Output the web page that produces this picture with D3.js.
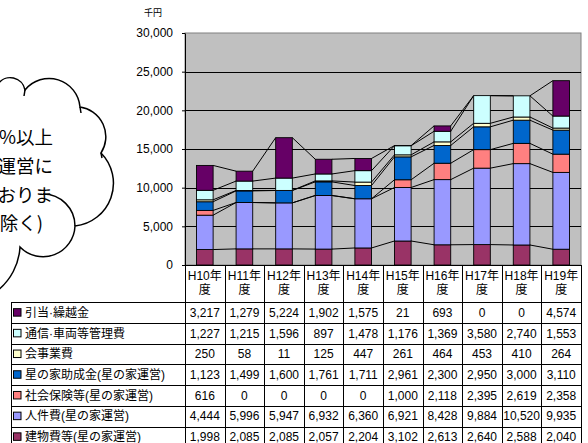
<!DOCTYPE html>
<html>
<head>
<meta charset="utf-8">
<script src="https://cdn.jsdelivr.net/npm/d3@7/dist/d3.min.js"></script>
<style>
html,body{margin:0;padding:0;background:#fff;overflow:hidden;}
svg{display:block;}
text{font-family:"Liberation Sans","Noto Sans CJK JP",Arial,sans-serif;fill:#000;}
</style>
</head>
<body>
<svg id="chart" width="588" height="443"></svg>
<script>
// ---- data ----
const categories = ["H10年度","H11年度","H12年度","H13年度","H14年度","H15年度","H16年度","H17年度","H18年度","H19年度"];
// stacking order bottom -> top
const seriesNames = ["建物費等(星の家運営)","人件費(星の家運営)","社会保険等(星の家運営)","星の家助成金(星の家運営)","会事業費","通信·車両等管理費","引当·繰越金"];
const tatemono  = [1998,2085,2085,2057,2204,3102,2613,2640,2588,2040];
const jinken    = [4444,5996,5947,6932,6360,6921,8428,9884,10520,9935];
const shakai    = [616,0,0,0,0,1000,2118,2395,2619,2358];
const josei     = [1123,1499,1600,1761,1711,2961,2300,2950,3000,3110];
const jigyo     = [250,58,11,125,447,261,464,453,410,264];
const tsushin   = [1227,1215,1596,897,1478,1176,1369,3580,2740,1553];
const hikiate   = [3217,1279,5224,1902,1575,21,693,0,0,4574];
const seriesValues = [tatemono,jinken,shakai,josei,jigyo,tsushin,hikiate];
const seriesColors = ["#993366","#9999FF","#FF8080","#0066CC","#FFFFCC","#CCFFFF","#660066"];
const yTicks = [0,5000,10000,15000,20000,25000,30000];
const unitLabel = "千円";
const cloudLines = ["収入の50%以上","を星の家運営に","充てておりま","す(繰越金を除く)"];

// ---- layout ----
const svg = d3.select("#chart");
const plotL = 185, plotR = 581, plotT = 33, plotB = 265;
const rowTop = 302.3, rowH = 20.7, legL = 11;

const y = d3.scaleLinear().domain([0,30000]).range([plotB,plotT]);
const xCol = d3.scaleBand().domain(categories).range([plotL,plotR]).padding(0);
const xBar = d3.scaleBand().domain(categories).range([plotL,plotR]).paddingInner(0.58).paddingOuter(0.29);

// ---- cloud callout ----
const cloud = svg.append("g");
cloud.append("path")
  .attr("d","M-2,84 A15,15 0 0 1 25,90 A31,31 0 0 1 80,107 A30,30 0 0 1 101,153 A43,43 0 0 1 75,226 A32,32 0 1 1 20,247 A60,60 0 0 1 -3,291 L-3,84 Z")
  .attr("fill","#fff").attr("stroke","none");
cloud.append("path")
  .attr("d","M-2,84 A15,15 0 0 1 25,90 A31,31 0 0 1 80,107 A30,30 0 0 1 101,153 A43,43 0 0 1 75,226 A32,32 0 0 1 20,247 A60,60 0 0 1 -3,291")
  .attr("fill","none").attr("stroke","#000").attr("stroke-width",1.5);
cloud.append("path")
  .attr("d","M43,194 A32,32 0 0 1 75,226")
  .attr("fill","none").attr("stroke","#000").attr("stroke-width",1.5);
cloud.append("path").attr("d","M25,90 l-1,6 M80,107 l1,6 M101,153 l1,5")
  .attr("fill","none").attr("stroke","#000").attr("stroke-width",1.5);
const cloudX = [53,53,53,43];
const cloudY = [137,166,195,223];
cloudLines.forEach((t,i)=>{
  cloud.append("text").attr("x",cloudX[i]).attr("y",cloudY[i]).attr("dy","0.36em")
    .attr("text-anchor","end").style("font-size","18.5px")
    .style("font-family","'Noto Sans CJK JP',sans-serif").text(t);
});

// ---- plot area ----
svg.append("rect").attr("x",plotL).attr("y",plotT).attr("width",plotR-plotL).attr("height",plotB-plotT)
  .attr("fill","#C0C0C0").attr("stroke","#808080").attr("stroke-width",1);

// gridlines
svg.append("g").selectAll("line").data(yTicks.filter(d=>d>0 && d<30000)).join("line")
  .attr("x1",plotL).attr("x2",plotR).attr("y1",d=>Math.round(y(d))+0.5).attr("y2",d=>Math.round(y(d))+0.5)
  .attr("stroke","#000").attr("stroke-width",1);

// stack
const rows = categories.map((c,i)=>{ const o={cat:c}; seriesNames.forEach((s,k)=>o[s]=seriesValues[k][i]); return o; });
const stacked = d3.stack().keys(seriesNames)(rows);

// series lines
const sl = svg.append("g");
stacked.forEach(layer=>{
  for(let i=0;i<categories.length-1;i++){
    sl.append("line")
      .attr("x1",xBar(categories[i])+xBar.bandwidth())
      .attr("x2",xBar(categories[i+1]))
      .attr("y1",y(layer[i][1])).attr("y2",y(layer[i+1][1]))
      .attr("stroke","#000").attr("stroke-width",1);
  }
});

// bars
svg.append("g").selectAll("g").data(stacked).join("g")
  .attr("fill",(d,i)=>seriesColors[i])
  .selectAll("rect").data(d=>d).join("rect")
  .attr("x",d=>xBar(d.data.cat)).attr("width",xBar.bandwidth())
  .attr("y",d=>y(d[1])).attr("height",d=>y(d[0])-y(d[1]))
  .attr("stroke","#000").attr("stroke-width",0.9);

// y axis
const yAxis = d3.axisLeft(y).tickValues(yTicks).tickFormat(d3.format(",")).tickSize(3).tickSizeOuter(0).tickPadding(9);
const ag = svg.append("g").attr("transform",`translate(${plotL},0)`).call(yAxis);
ag.selectAll("text").style("font-size","12px").style("font-family","'Liberation Sans',Arial,sans-serif");
ag.select(".domain").attr("stroke","#000");
svg.append("text").attr("x",153).attr("y",13).attr("dy","0.36em").attr("text-anchor","middle")
  .style("font-size","9px").style("font-family","'Noto Sans CJK JP',sans-serif").text(unitLabel);

// ---- data table ----
const tb = svg.append("g");
const tableBottom = rowTop + rowH*seriesNames.length;
// header
categories.forEach(c=>{
  const cx = xCol(c)+xCol.bandwidth()/2;
  tb.append("text").attr("x",cx).attr("y",276).attr("dy","0.36em").attr("text-anchor","middle")
    .style("font-size","12px").text(c.slice(0,-1));
  tb.append("text").attr("x",cx).attr("y",290).attr("dy","0.36em").attr("text-anchor","middle")
    .style("font-size","12px").text(c.slice(-1));
});
// rows (top row = top of stack)
const tableOrder = seriesNames.map((s,i)=>i).reverse();
tableOrder.forEach((si,r)=>{
  const cy = rowTop + rowH*r + rowH/2;
  tb.append("rect").attr("x",13.5).attr("y",cy-4).attr("width",7.5).attr("height",7.5)
    .attr("fill",seriesColors[si]).attr("stroke","#000").attr("stroke-width",1);
  tb.append("text").attr("x",25).attr("y",cy).attr("dy","0.36em")
    .style("font-size","12px").text(seriesNames[si]);
  categories.forEach((c,ci)=>{
    tb.append("text").attr("x",xCol(c)+xCol.bandwidth()/2).attr("y",cy).attr("dy","0.36em")
      .attr("text-anchor","middle").style("font-size","12px")
      .text(d3.format(",")(seriesValues[si][ci]));
  });
});
// grid lines of table
for(let r=0;r<=seriesNames.length;r++){
  const yy = Math.round(rowTop + rowH*r)+0.5;
  tb.append("line").attr("x1",legL).attr("x2",plotR).attr("y1",yy).attr("y2",yy).attr("stroke","#000");
}
tb.append("line").attr("x1",plotL).attr("x2",plotR).attr("y1",plotB+0.5).attr("y2",plotB+0.5).attr("stroke","#000");
tb.append("line").attr("x1",legL+0.5).attr("x2",legL+0.5).attr("y1",rowTop).attr("y2",tableBottom).attr("stroke","#000");
categories.forEach(c=>{
  const xx = Math.round(xCol(c))+0.5;
  tb.append("line").attr("x1",xx).attr("x2",xx).attr("y1",plotB).attr("y2",tableBottom).attr("stroke","#000");
});
tb.append("line").attr("x1",plotR+0.5).attr("x2",plotR+0.5).attr("y1",plotB).attr("y2",tableBottom).attr("stroke","#000");
</script>
</body>
</html>
